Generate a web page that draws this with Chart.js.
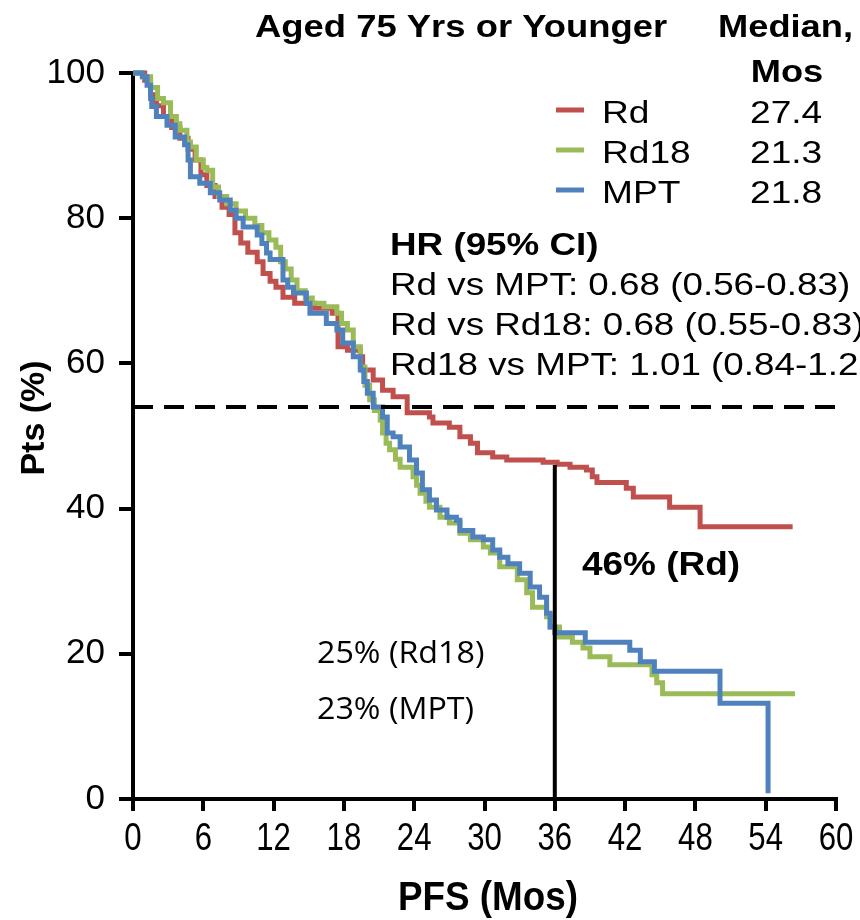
<!DOCTYPE html>
<html>
<head>
<meta charset="utf-8">
<script src="https://cdn.jsdelivr.net/npm/chart.js@4.4.1/dist/chart.umd.min.js"></script>
<style>
  html, body { margin: 0; padding: 0; background: #fff; }
  canvas { display: block; }
</style>
</head>
<body>
<canvas id="km" width="860" height="920"></canvas>
<script>
// Kaplan-Meier PFS (months, % of patients)
const rdTime = [0, 1.0, 1.5, 2.0, 2.6, 3.3, 4.0, 4.7, 5.3, 5.8, 6.3, 7.0, 7.6, 8.2, 8.7, 9.2, 9.8, 10.6, 11.1, 11.7,
  12.2, 12.8, 13.8, 15.5, 17.0, 17.5, 18.3, 19.4, 19.6, 20.5, 21.3, 22.2, 23.4, 25.3, 25.6, 27.0, 27.9, 28.8, 29.4, 30.7,
  31.9, 35.0, 36.2, 37.3, 38.7, 39.2, 39.6, 42.1, 42.7, 45.8, 48.4, 56.3];
const rdPct = [100, 99, 97, 95.5, 94, 92.5, 91, 89.5, 88, 86, 84.5, 83, 81.5, 80.5, 78, 76.6, 75.3, 74, 72.4, 71.3,
  70.5, 69.1, 68.3, 67.6, 66.9, 62.3, 61.8, 60.9, 59.1, 57.7, 56.3, 55.4, 53.2, 52.6, 51.8, 51.2, 49.9, 49, 47.7, 47.1,
  46.7, 46.4, 46.1, 45.7, 45.3, 44.4, 43.6, 42.8, 41.6, 40.2, 37.5, 37.5];

const rd18Time = [0, 0.8, 1.5, 2.1, 2.6, 3.2, 3.7, 4.0, 4.6, 4.9, 5.4, 6.0, 6.3, 6.8, 7.3, 8.0, 8.8, 9.6, 10.4, 11.0,
  11.6, 12.2, 12.6, 13.0, 13.5, 14.0, 14.7, 15.3, 16.3, 17.4, 17.8, 18.3, 18.8, 19.4, 19.8, 20.2, 20.6, 21.1, 21.3, 21.6,
  21.9, 22.4, 22.8, 23.9, 24.2, 24.5, 25.0, 25.3, 26.2, 27.0, 27.9, 28.8, 29.9, 30.5, 31.3, 32.8, 33.6, 34.1, 35.3, 35.6,
  36.4, 37.5, 38.4, 39.0, 40.7, 44.3, 44.7, 45.2, 56.5];
const rd18Pct = [100, 99.5, 98, 96.5, 95.9, 94, 93, 92.1, 90.5, 89.8, 88, 87, 86.6, 84.3, 83, 82, 81, 80, 79, 78,
  77, 76, 74, 73, 71.5, 70, 69, 68.3, 67.8, 66.9, 65.5, 64.6, 62.3, 59.5, 57, 55, 53.5, 52.2, 50.4, 49,
  48.1, 46.8, 45.7, 44.4, 43.2, 42.1, 41, 40.2, 38.8, 38, 36.6, 35.7, 34.7, 33.9, 32, 30.2, 28.4, 26.4, 25.1, 23.7,
  22.3, 21.6, 20.8, 19.6, 18.5, 17.1, 16, 14.5, 14.5];

const mptTime = [0, 0.8, 1.2, 1.5, 1.6, 2.0, 2.9, 3.6, 4.4, 4.7, 4.9, 5.7, 6.6, 7.4, 8.3, 8.8, 9.4, 10.6, 11.0, 11.4,
  11.7, 12.8, 13.2, 13.7, 14.8, 15.1, 16.5, 17.4, 17.9, 18.8, 19.4, 19.7, 20.0, 20.5, 21.3, 21.7, 22.2, 22.8, 23.6, 24.2,
  24.7, 25.3, 25.9, 26.8, 27.6, 27.9, 29.0, 29.9, 30.7, 31.3, 32.0, 33.0, 33.9, 34.7, 35.3, 35.6, 36.0, 38.6, 42.4, 43.3,
  44.5, 50.1, 54.2];
const mptPct = [100, 99.5, 98.3, 96.5, 95.4, 94, 92.8, 91.2, 90.1, 88, 85.7, 84.8, 83.5, 82.5, 81.1, 80, 78.8, 77.7, 76.5, 75.2,
  74.3, 71.5, 70.5, 69.7, 68.3, 66.9, 65.5, 64.6, 62.8, 60.9, 59.1, 57.5, 55.9, 54, 52.6, 50.4, 49.9, 48.5, 46.7, 44.9,
  42.6, 41.2, 39.8, 38.8, 38.4, 37, 36.1, 35.7, 34.3, 33.3, 32.4, 31.1, 29.2, 27.8, 25.6, 23.7, 22.9, 21.6, 20.5, 18.9,
  17.6, 13.2, 0.8];

// reference lines
const medianLineX = [0, 60];
const medianLineY = [54, 54];
const landmarkX = [36, 36];
const landmarkY = [0, 46];

// texts
const seriesNames = ["Rd", "Rd18", "MPT"];
const medians = ["27.4", "21.3", "21.8"];
const hrLines = [
  "Rd vs MPT: 0.68 (0.56-0.83)",
  "Rd vs Rd18: 0.68 (0.55-0.83)",
  "Rd18 vs MPT: 1.01 (0.84-1.21)",
];
const landmarkLabels = ["46% (Rd)", "25% (Rd18)", "23% (MPT)"];

const COLOR = { red: "#C0504D", green: "#9BBB59", blue: "#4F81BD", black: "#000000" };
const SANS = "'Liberation Sans', Arial, sans-serif";

const toPoints = (xs, ys) => xs.map((x, i) => ({ x, y: ys[i] }));

const curve = (label, xs, ys, color, order) => ({
  label,
  data: toPoints(xs, ys),
  borderColor: color,
  backgroundColor: color,
  borderWidth: 5,
  pointRadius: 0,
  stepped: "before",
  fill: false,
  clip: false,
  order,
});

const refLine = (xs, ys, dash) => ({
  label: "",
  data: toPoints(xs, ys),
  borderColor: COLOR.black,
  borderWidth: 4,
  borderDash: dash,
  pointRadius: 0,
  fill: false,
  order: -1,
});

// the picture's text is a bit stretched sideways, so draw it scaled
function stretchText(ctx, text, x, y, sx, align) {
  ctx.save();
  ctx.translate(x, y);
  ctx.scale(sx, 1);
  ctx.textAlign = align || "left";
  ctx.fillText(text, 0, 0);
  ctx.restore();
}

const annotations = {
  id: "annotations",
  afterDraw(chart) {
    const { ctx } = chart;
    const xScale = chart.scales.x;
    ctx.save();
    ctx.fillStyle = COLOR.black;
    ctx.textBaseline = "alphabetic";

    // x tick labels (narrow in the picture)
    ctx.font = `38px ${SANS}`;
    xScale.ticks.forEach((t) => {
      stretchText(ctx, String(t.value), xScale.getPixelForValue(t.value), 850, 0.82, "center");
    });

    ctx.font = `bold 31px ${SANS}`;
    stretchText(ctx, "Aged 75 Yrs or Younger", 255, 37, 1.175);
    stretchText(ctx, "Median,", 718, 37, 1.17);
    stretchText(ctx, "Mos", 787, 82, 1.17, "center");

    // legend
    const colors = [COLOR.red, COLOR.green, COLOR.blue];
    ctx.font = `32px ${SANS}`;
    seriesNames.forEach((name, i) => {
      const base = 123 + i * 40;
      ctx.strokeStyle = colors[i];
      ctx.lineWidth = 5;
      ctx.beginPath();
      ctx.moveTo(556, base - 13);
      ctx.lineTo(584, base - 13);
      ctx.stroke();
      stretchText(ctx, name, 602, base, 1.16);
      stretchText(ctx, medians[i], 750, base, 1.16);
    });

    ctx.font = `bold 32px ${SANS}`;
    stretchText(ctx, "HR (95% CI)", 390, 255, 1.15);
    ctx.font = `32px ${SANS}`;
    hrLines.forEach((line, i) => stretchText(ctx, line, 390, 295 + i * 40, 1.15));

    ctx.font = `bold 33px ${SANS}`;
    stretchText(ctx, landmarkLabels[0], 582, 575, 1.12);
    ctx.font = `31px 'Open Sans', 'Noto Sans', sans-serif`;
    stretchText(ctx, landmarkLabels[1], 317, 663, 1.04);
    stretchText(ctx, landmarkLabels[2], 317, 719, 1.04);

    // axis titles
    ctx.font = `bold 40px ${SANS}`;
    stretchText(ctx, "PFS (Mos)", 488, 910, 0.92, "center");
    ctx.translate(44, 418);
    ctx.rotate(-Math.PI / 2);
    ctx.font = `bold 34px ${SANS}`;
    ctx.textAlign = "center";
    ctx.fillText("Pts (%)", 0, 0);
    ctx.restore();
  },
};

new Chart(document.getElementById("km"), {
  type: "line",
  data: {
    datasets: [
      refLine(medianLineX, medianLineY, [20, 11]),
      refLine(landmarkX, landmarkY, []),
      curve("MPT", mptTime, mptPct, COLOR.blue, 0),
      curve("Rd18", rd18Time, rd18Pct, COLOR.green, 1),
      curve("Rd", rdTime, rdPct, COLOR.red, 2),
    ],
  },
  options: {
    responsive: false,
    animation: false,
    devicePixelRatio: 1,
    layout: { padding: { top: 73, right: 24, left: 0, bottom: 0 } },
    plugins: {
      legend: { display: false },
      tooltip: { enabled: false },
    },
    scales: {
      x: {
        type: "linear",
        min: 0,
        max: 60,
        afterFit: (scale) => { scale.height = 121; },
        ticks: { stepSize: 6, display: false },
        grid: { drawOnChartArea: false, tickLength: 12, lineWidth: 4, color: COLOR.black },
        border: { display: true, color: COLOR.black, width: 4 },
      },
      y: {
        min: 0,
        max: 100,
        afterFit: (scale) => { scale.width = 133; },
        ticks: {
          stepSize: 20,
          color: COLOR.black,
          padding: 14,
          font: { family: SANS, size: 35 },
        },
        grid: { drawOnChartArea: false, tickLength: 14, lineWidth: 4, color: COLOR.black },
        border: { display: true, color: COLOR.black, width: 4 },
      },
    },
  },
  plugins: [annotations],
});
</script>
</body>
</html>
